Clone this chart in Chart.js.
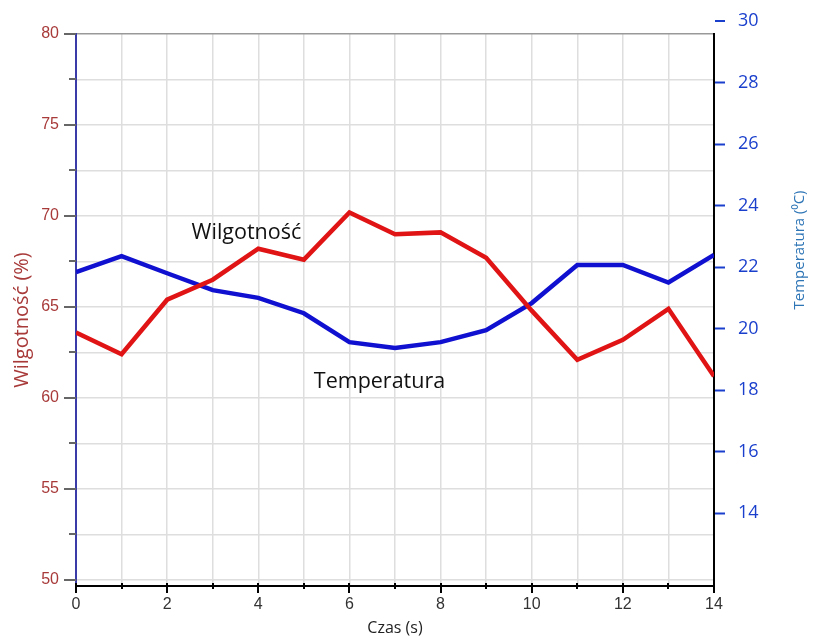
<!DOCTYPE html>
<html>
<head>
<meta charset="utf-8">
<script src="https://cdn.jsdelivr.net/npm/chart.js@4.4.1/dist/chart.umd.min.js"></script>
<style>
  body { margin: 0; background: #fff; }
  canvas { display: block; }
</style>
</head>
<body>
<canvas id="chart" width="813" height="638"></canvas>
<script>
// time axis (s)
const timeSec = [0, 1, 2, 3, 4, 5, 6, 7, 8, 9, 10, 11, 12, 13, 14];
// humidity (%) - left axis
const humidity = [63.6, 62.4, 65.4, 66.5, 68.2, 67.6, 70.2, 69.0, 69.1, 67.7, 64.8, 62.1, 63.2, 64.9, 61.2];
// temperature (°C) - right axis
const temperature = [21.84, 22.36, 21.8, 21.25, 21.0, 20.5, 19.56, 19.37, 19.56, 19.95, 20.83, 22.07, 22.07, 21.5, 22.4];

const humidityTicks = [50, 52.5, 55, 57.5, 60, 62.5, 65, 67.5, 70, 72.5, 75, 77.5, 80];
const tempTicks = [14, 16, 18, 20, 22, 24, 26, 28];
const tempTopLabel = 30;

const seriesLabels = [
    { text: 'Wilgotność', x: 3.74, y: 69.1 },
    { text: 'Temperatura', x: 6.66, y: 60.9 }
];

const leftColor = '#a83a3a';
const rightColor = '#1a3fcc';

// extra drawing: short/long tick marks, rotated titles, inline series labels
const decorPlugin = {
    id: 'decor',
    afterDraw(chart) {
        const { ctx, chartArea, scales } = chart;
        const xs = scales.x, yl = scales.y, yr = scales.y1;
        ctx.save();

        // left axis tick marks
        ctx.strokeStyle = '#666';
        ctx.lineWidth = 2;
        humidityTicks.forEach(v => {
            const py = Math.round(yl.getPixelForValue(v));
            const len = v % 5 === 0 ? 12 : 7;
            ctx.beginPath();
            ctx.moveTo(chartArea.left - len, py);
            ctx.lineTo(chartArea.left, py);
            ctx.stroke();
        });

        // x axis tick marks
        ctx.strokeStyle = '#000';
        timeSec.forEach(t => {
            const px = Math.round(xs.getPixelForValue(t));
            ctx.beginPath();
            ctx.moveTo(px, chartArea.bottom - 3);
            ctx.lineTo(px, chartArea.bottom + (t % 2 === 0 ? 7 : 3));
            ctx.stroke();
        });

        // top right "30" label sits above the plot area
        const p30 = Math.round(yr.getPixelForValue(tempTopLabel));
        ctx.strokeStyle = rightColor;
        ctx.beginPath();
        ctx.moveTo(chartArea.right + 1, p30);
        ctx.lineTo(chartArea.right + 11, p30);
        ctx.stroke();
        ctx.fillStyle = rightColor;
        ctx.font = '18px "Open Sans"';
        ctx.textAlign = 'left';
        ctx.textBaseline = 'middle';
        ctx.fillText(String(tempTopLabel), chartArea.right + 24, p30);

        // axis titles, reading bottom to top
        ctx.save();
        ctx.translate(22, 320);
        ctx.rotate(-Math.PI / 2);
        ctx.textAlign = 'center';
        ctx.fillStyle = leftColor;
        ctx.font = '20px "Open Sans"';
        ctx.fillText('Wilgotność (%)', 0, 0);
        ctx.restore();

        ctx.save();
        ctx.translate(800, 250);
        ctx.rotate(-Math.PI / 2);
        ctx.textAlign = 'center';
        ctx.fillStyle = '#2e75b6';
        ctx.font = '15px "Open Sans"';
        ctx.fillText('Temperatura (⁰C)', 0, 0);
        ctx.restore();

        // series names
        ctx.fillStyle = '#111';
        ctx.font = '21.5px "Open Sans"';
        ctx.textAlign = 'center';
        seriesLabels.forEach(l => {
            ctx.fillText(l.text, xs.getPixelForValue(l.x), yl.getPixelForValue(l.y));
        });
        ctx.restore();
    }
};

new Chart(document.getElementById('chart'), {
    type: 'line',
    data: {
        datasets: [
            {
                label: 'Wilgotność',
                data: timeSec.map((t, i) => ({ x: t, y: humidity[i] })),
                borderColor: '#e01414',
                borderWidth: 4.5,
                pointRadius: 0,
                tension: 0,
                yAxisID: 'y'
            },
            {
                label: 'Temperatura',
                data: timeSec.map((t, i) => ({ x: t, y: temperature[i] })),
                borderColor: '#1010d0',
                borderWidth: 4.5,
                pointRadius: 0,
                tension: 0,
                yAxisID: 'y1'
            }
        ]
    },
    options: {
        responsive: false,
        animation: false,
        layout: { padding: { top: 34, left: 0, right: 0, bottom: 0 } },
        plugins: {
            legend: { display: false },
            tooltip: { enabled: false }
        },
        scales: {
            x: {
                type: 'linear',
                min: 0,
                max: 14,
                afterBuildTicks: s => { s.ticks = timeSec.map(v => ({ value: v })); },
                afterFit: s => { s.height = 52; },
                ticks: {
                    padding: 9,
                    color: '#333',
                    font: { family: '"Liberation Sans"', size: 16 },
                    callback: v => (v % 2 === 0 ? v : '')
                },
                grid: { color: '#dedede', lineWidth: 1.5, drawTicks: false },
                border: { color: '#000', width: 2 },
                title: {
                    display: true,
                    text: 'Czas (s)',
                    color: '#222',
                    font: { family: '"Open Sans"', size: 16 },
                    padding: { top: 0, bottom: 0 }
                }
            },
            y: {
                position: 'left',
                min: 49.67,
                max: 80,
                afterBuildTicks: s => { s.ticks = humidityTicks.map(v => ({ value: v })); },
                afterFit: s => { s.width = 76; },
                ticks: {
                    padding: 17,
                    color: leftColor,
                    font: { family: '"Liberation Sans"', size: 16 },
                    callback: v => (v % 5 === 0 ? v : '')
                },
                grid: {
                    drawTicks: false,
                    lineWidth: 1.5,
                    color: c => (c.tick && c.tick.value === 80 ? '#999' : '#dedede')
                },
                border: { color: '#3a3aa8', width: 2 }
            },
            y1: {
                position: 'right',
                min: 11.63,
                max: 29.58,
                afterBuildTicks: s => { s.ticks = tempTicks.map(v => ({ value: v })); },
                afterFit: s => { s.width = 99; },
                ticks: {
                    padding: 13,
                    color: rightColor,
                    font: { family: '"Open Sans"', size: 18 }
                },
                grid: { drawOnChartArea: false, tickLength: 11, tickWidth: 2, tickColor: rightColor },
                border: { color: '#000', width: 2 }
            }
        }
    },
    plugins: [decorPlugin]
});
</script>
</body>
</html>
